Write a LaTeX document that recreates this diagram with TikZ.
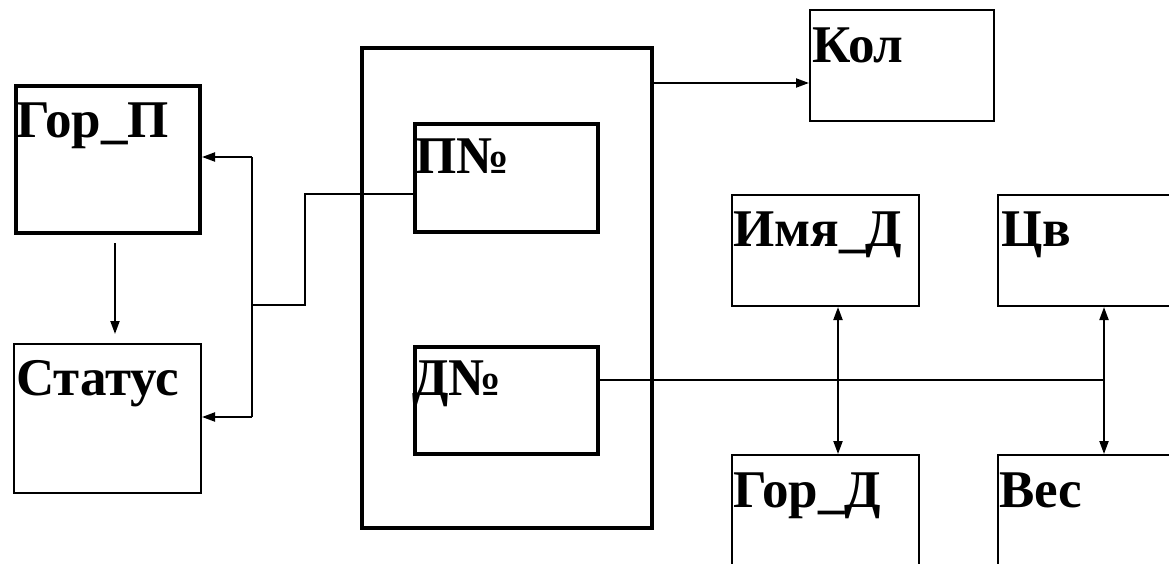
\documentclass[tikz,border=0pt]{standalone}
\usepackage{fontspec}
\setmainfont{Liberation Serif}
\usetikzlibrary{arrows.meta,calc}
\begin{document}
\begin{tikzpicture}[x=1pt,y=-1pt,
  thickbox/.style={draw, line width=4pt, anchor=north west, inner sep=0pt},
  thinbox/.style={draw, line width=2pt, anchor=north west, inner sep=0pt},
  lbl/.style={anchor=base west, inner sep=0pt, font=\fontsize{53}{62}\selectfont\bfseries},
  conn/.style={line width=2pt},
  arr/.style={conn, -{Triangle[length=13pt,width=9pt]}},
  darr/.style={conn, {Triangle[length=13pt,width=9pt]}-{Triangle[length=13pt,width=9pt]}}]
\useasboundingbox (0,0) rectangle (1169,563);
\clip (0,0) rectangle (1169,563);

% boxes
\node[thickbox, minimum width=184pt, minimum height=147pt] (gorp) at (14,84) {};
\node[thinbox, minimum width=187pt, minimum height=149pt] (status) at (13,343) {};
\node[thickbox, minimum width=290pt, minimum height=480pt] (big) at (360,46) {};
\node[thickbox, minimum width=183pt, minimum height=108pt] (pn) at (413,122) {};
\node[thickbox, minimum width=183pt, minimum height=107pt] (dn) at (413,345) {};
\node[thinbox, minimum width=184pt, minimum height=111pt] (kol) at (809,9) {};
\node[thinbox, minimum width=187pt, minimum height=111pt] (imya) at (731,194) {};
\node[thinbox, minimum width=200pt, minimum height=111pt] (cv) at (997,194) {};
\node[thinbox, minimum width=187pt, minimum height=130pt] (gord) at (731,454) {};
\node[thinbox, minimum width=200pt, minimum height=130pt] (ves) at (997,454) {};

% labels
\node[lbl] (tgorp) at (16,137) {Гор\_П};
\node[lbl] (tstatus) at (16,395) {Статус};
\node[lbl] (tpn) at (415,173) {П№};
\node[lbl] (tdn) at (412,395) {Д№};
\node[lbl] (tkol) at (812,62) {Кол};
\node[lbl] (timya) at (733,246) {Имя\_Д};
\node[lbl] (tcv) at (1001,246) {Цв};
\node[lbl] (tgord) at (733,507) {Гор\_Д};
\node[lbl] (tves) at (999,507) {Вес};

% coordinates
\coordinate (bt) at (252,157);
\coordinate (bm) at (252,305);
\coordinate (bb) at (252,417);
\coordinate (jt) at (305,194);
\coordinate (jb) at (305,305);
\coordinate (ky) at (0,83);
\coordinate (jr) at (1104,380);
\coordinate (cx) at (838,0);

% connectors
\draw[arr, shorten <=8pt, shorten >=9pt] ([xshift=7pt]gorp.south) -- ([xshift=7pt]gorp.south |- status.north);
\draw[conn] (bt) -- (bb);
\draw[arr] (bt) -- (bt -| gorp.east);
\draw[arr] (bb) -- (bb -| status.east);
\draw[conn] (pn.west |- jt) -- (jt) -- (jb) -- (bm);
\draw[arr] (big.east |- ky) -- (kol.west |- ky);
\draw[conn] (dn.east |- jr) -- (jr);
\draw[darr] (imya.south -| cx) -- (gord.north -| cx);
\draw[darr] (cv.south -| jr) -- (ves.north -| jr);
\end{tikzpicture}
\end{document}
